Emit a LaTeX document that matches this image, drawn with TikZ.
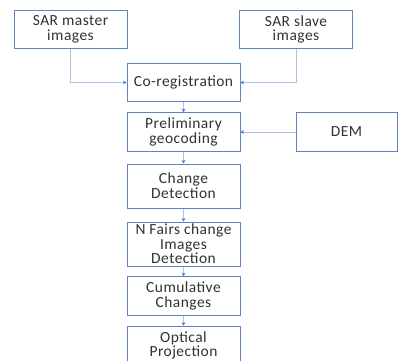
\documentclass[tikz,border=0pt]{standalone}
\usepackage{fontspec}
\setmainfont{Carlito}
\newfontfamily\boxfont[LetterSpace=3]{Carlito}
\usetikzlibrary{arrows.meta}

\definecolor{boxblue}{RGB}{98,128,196}
\definecolor{linkblue}{RGB}{172,194,230}
\definecolor{tipblue}{RGB}{68,114,196}
\definecolor{textgray}{RGB}{50,50,50}

\tikzset{
  stepbox/.style={draw=boxblue, line width=0.75pt, fill=white, text=textgray,
    align=center, inner sep=0pt, minimum width=84.75pt, minimum height=29pt,
    font=\boxfont\fontsize{11.6}{11}\selectfont},
  link/.style={draw=linkblue, line width=0.75pt,
    -{Stealth[length=2.6pt, width=2.8pt, color=tipblue]}}
}

\begin{document}
\begin{tikzpicture}[x=0.75pt, y=-0.75pt]
  \clip (0,0) rectangle (398,360);
  \fill[white] (0,0) rectangle (398,360);

  % inputs
  \node[stepbox] (master) at (70.5,29.5) {SAR master\\images};
  \node[stepbox] (slave) at (296,29.5) {SAR slave\\images};
  \node[stepbox, minimum width=75.75pt] (dem) at (346.5,132) {DEM};

  % main chain
  \node[stepbox] (coreg) at (183.5,82.5) {Co-registration};
  \node[stepbox] (prelim) at (183.5,132) {Preliminary\\geocoding};
  \node[stepbox, minimum height=33pt] (change) at (183.5,186) {Change\\Detection};
  \node[stepbox, minimum height=33pt] (pairs) at (183.5,244) {N Fairs change\\Images\\Detection};
  \node[stepbox] (cumul) at (183.5,296) {Cumulative\\Changes};
  \node[stepbox] (optical) at (183.5,345.5) {Optical\\Projection};

  \draw[link] (master.south) |- (coreg.west);
  \draw[link] (slave.south) |- (coreg.east);
  \draw[link] (coreg) -- (prelim);
  \draw[link] (dem) -- (prelim);
  \draw[link] (prelim) -- (change);
  \draw[link] (change) -- (pairs);
  \draw[link] (pairs) -- (cumul);
  \draw[link] (cumul) -- (optical);
\end{tikzpicture}
\end{document}
